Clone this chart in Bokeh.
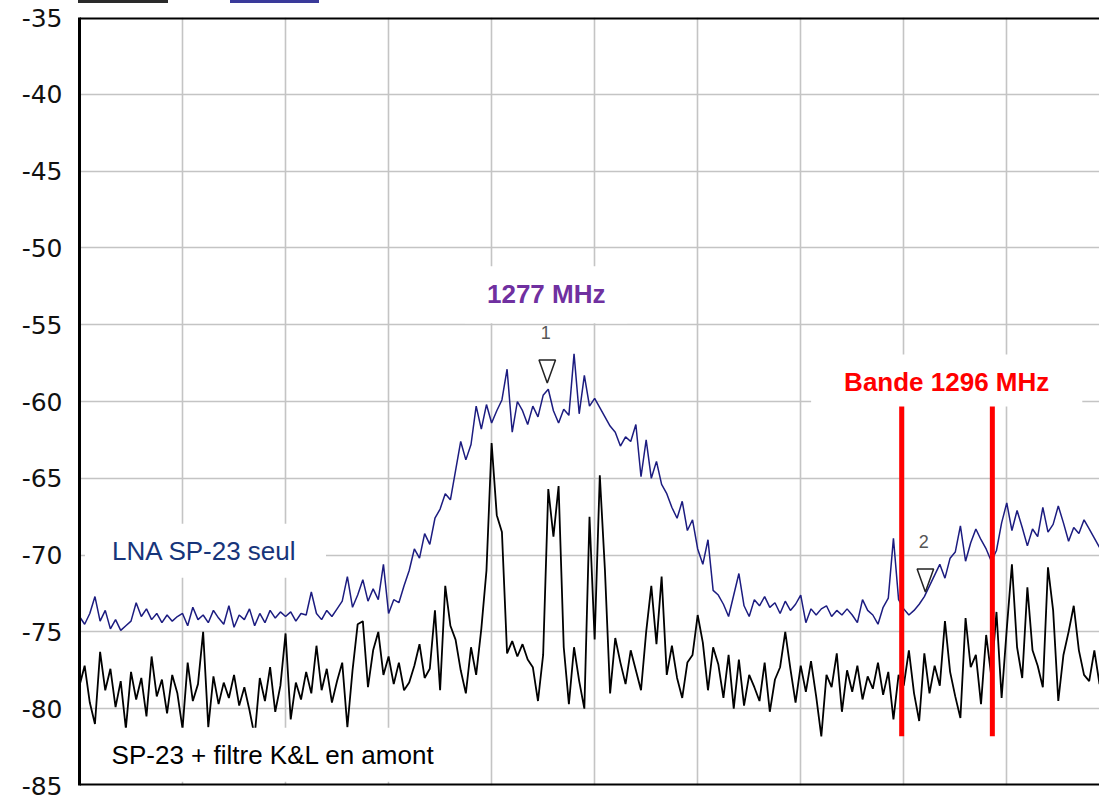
import numpy as np
from bokeh.plotting import figure
from bokeh.layouts import column
from bokeh.models import FixedTicker, Label, Span, Div
from bokeh.embed import file_html
from bokeh.resources import INLINE

# ---------------- data ----------------
f_start = 1232.0   # MHz, left edge of sweep
f_step = 0.5       # MHz per sweep point

# LNA SP-23 alone (blue trace), dBm
lna_alone = [
    -74.0, -74.5, -73.8, -72.7, -74.3, -73.6, -74.8, -74.2, -74.9, -74.6,
    -74.3, -73.1, -74.0, -73.5, -74.2, -73.8, -74.4, -73.9, -74.3, -74.0,
    -73.8, -74.6, -73.4, -74.2, -73.9, -74.4, -73.6, -74.1, -74.5, -73.3,
    -74.7, -73.9, -74.2, -73.5, -74.6, -73.8, -74.4, -73.6, -74.1, -73.7,
    -74.0, -73.7, -74.3, -73.8, -73.9, -72.4, -73.8, -74.2, -73.6, -74.0,
    -73.5, -73.0, -71.4, -73.4, -72.6, -71.6, -73.0, -72.2, -72.9, -70.6,
    -73.8, -72.9, -73.1, -72.0, -71.0, -69.6, -70.2, -68.6, -69.3, -67.6,
    -67.0, -66.0, -66.4, -64.5, -62.6, -63.8, -62.8, -60.3, -61.8, -60.2,
    -61.4, -60.6, -59.9, -57.9, -62.0, -60.0, -60.6, -61.5, -60.3, -61.0,
    -59.6, -59.2, -60.6, -61.4, -60.5, -60.9, -56.9, -60.8, -58.3, -60.3,
    -59.8, -60.4, -61.0, -61.6, -62.0, -62.9, -62.3, -62.6, -61.5, -64.9,
    -62.5, -65.0, -63.9, -65.4, -66.0, -66.9, -67.6, -66.5, -68.4, -67.7,
    -69.6, -70.6, -69.0, -72.3, -72.6, -73.2, -74.0, -72.6, -71.2, -73.3,
    -74.0, -72.9, -73.3, -72.7, -73.4, -73.1, -73.8, -73.0, -73.6, -73.2,
    -72.6, -74.4, -73.5, -73.9, -73.5, -73.3, -74.0, -73.6, -73.9, -73.5,
    -73.9, -74.4, -72.9, -73.6, -73.9, -74.5, -73.4, -72.8, -68.9, -72.9,
    -73.5, -73.9, -73.6, -73.2, -72.7, -72.0, -71.3, -70.6, -71.5, -70.2,
    -69.8, -68.1, -70.4, -69.2, -68.3, -69.0, -69.6, -70.4, -69.7, -67.9,
    -66.6, -68.4, -67.1, -68.2, -69.4, -68.3, -68.8, -66.9, -68.5, -68.0,
    -66.8, -67.9, -69.1, -68.2, -68.6, -67.7, -68.3, -68.9, -69.5,
]

# SP-23 + K&L filter upstream (black trace), dBm
lna_filtered = [
    -78.5, -77.2, -79.6, -81.0, -76.3, -78.8, -77.4, -79.9, -78.2, -81.3,
    -77.6, -79.4, -78.0, -80.5, -76.6, -79.2, -78.1, -80.3, -77.8, -79.0,
    -81.3, -77.0, -79.5, -78.4, -75.0, -81.2, -77.9, -79.7, -78.3, -79.3,
    -77.8, -79.8, -78.6, -80.1, -81.8, -78.0, -79.5, -77.3, -80.2, -78.5,
    -75.1, -80.7, -78.3, -79.4, -77.6, -79.0, -75.9, -78.8, -77.4, -79.6,
    -78.2, -77.0, -81.2, -77.5, -74.5, -74.3, -78.6, -76.2, -75.0, -77.8,
    -76.6, -78.4, -77.0, -78.8, -78.3, -77.2, -75.8, -78.0, -77.4, -73.6,
    -78.8, -72.0, -74.6, -75.5, -77.5, -79.0, -76.0, -77.8, -74.8, -71.0,
    -62.7, -67.4, -68.5, -76.4, -75.6, -76.6, -75.8, -76.8, -77.3, -79.5,
    -76.5, -65.7, -68.8, -65.5, -76.0, -79.7, -76.0, -78.2, -80.0, -67.5,
    -75.5, -64.8, -71.0, -79.0, -75.4, -77.0, -78.4, -76.2, -77.5, -78.8,
    -75.0, -72.0, -75.8, -71.4, -77.8, -75.9, -78.0, -79.3, -77.0, -76.5,
    -73.9, -75.7, -78.8, -76.0, -77.1, -79.3, -76.5, -80.0, -76.8, -79.8,
    -77.8, -78.6, -79.5, -77.0, -80.2, -78.1, -77.3, -75.0, -77.4, -79.6,
    -77.2, -78.9, -76.9, -79.2, -81.8, -77.8, -78.6, -76.4, -80.2, -77.5,
    -78.9, -77.2, -79.4, -77.9, -78.7, -77.0, -79.1, -77.6, -80.7, -77.8,
    -78.5, -76.2, -79.0, -80.8, -76.4, -79.0, -77.2, -78.5, -74.3, -77.6,
    -79.2, -80.6, -74.1, -77.3, -76.5, -79.7, -75.2, -77.9, -73.7, -79.3,
    -74.8, -70.6, -76.0, -78.0, -72.1, -76.2, -77.2, -78.6, -70.8, -73.6,
    -79.5, -76.5, -75.0, -73.3, -76.2, -77.8, -78.2, -76.2, -78.4,
]

freq = [f_start + f_step * i for i in range(len(lna_alone))]

ytick_values = [-85, -80, -75, -70, -65, -60, -55, -50, -45, -40, -35]
ytick_labels = ["-85", "-80", "-75", "-70", "-65", "-60", "-55", "-50", "-45", "-40", "-35"]
xgrid_values = [1242, 1252, 1262, 1272, 1282, 1292, 1302, 1312, 1322]

marker_labels = ["1", "2"]
marker_freq = [1277.4, 1314.1]
marker_db = [-58.8, -72.4]

band_freq = [1311.8, 1320.6]
band_top = -60.25
band_bottom = -81.8

peak_text = "1277 MHz"
band_text = "Bande 1296 MHz"
alone_text = "LNA SP-23 seul"
filtered_text = "SP-23 + filtre K&L en amont"

# ---------------- figure ----------------
FONT = "Liberation Sans"
p = figure(width=1099, height=796, x_range=(1232, 1331), y_range=(-85, -35),
           output_backend="svg", toolbar_location=None,
           min_border_left=79, min_border_top=14, min_border_bottom=14,
           min_border_right=0)
p.outline_line_color = None
p.background_fill_color = "white"
p.border_fill_color = "white"

p.xaxis.visible = False
p.xgrid.ticker = FixedTicker(ticks=xgrid_values)
p.ygrid.ticker = FixedTicker(ticks=ytick_values)
for g in (p.xgrid, p.ygrid):
    g.grid_line_color = "#c4c4c4"
    g.grid_line_width = 1.6

ya = p.yaxis[0]
ya.ticker = FixedTicker(ticks=ytick_values)
ya.major_label_overrides = {v: s for v, s in zip(ytick_values, ytick_labels)}
ya.major_label_text_font = "DejaVu Sans"
ya.major_label_text_font_size = "25px"
ya.major_label_text_color = "#111111"
ya.major_label_standoff = 17
ya.major_tick_line_color = None
ya.minor_tick_line_color = None
ya.major_tick_out = 0
ya.major_tick_in = 0
ya.axis_line_color = "black"
ya.axis_line_width = 3

p.add_layout(Span(location=-35, dimension="width", line_color="black", line_width=4))
p.add_layout(Span(location=-85, dimension="width", line_color="black", line_width=4))

r_blue = p.line(freq, lna_alone, line_color="#1c1c80", line_width=1.5)
r_black = p.line(freq, lna_filtered, line_color="black", line_width=1.8)

# band limits
p.segment(x0=band_freq, x1=band_freq, y0=[band_top] * len(band_freq),
          y1=[band_bottom] * len(band_freq), line_color="#ff0000", line_width=5)

# marker triangles (tip on the trace)
dx, dy = 0.8, 1.5
xs = [[f - dx, f + dx, f] for f in marker_freq]
ys = [[d + dy, d + dy, d] for d in marker_db]
p.patches(xs, ys, fill_color=None, line_color="#222222", line_width=1.5)

for lab, f, d in zip(marker_labels, marker_freq, marker_db):
    p.add_layout(Label(x=f - 0.15, y=d + 3.3, text=lab, text_font=FONT,
                       text_font_size="18px", text_color="#555555",
                       text_align="center", text_baseline="middle"))

def boxed(text, x, y, color, bold, pad):
    l, r, t, b = pad
    return Label(x=x, y=y, text=text, text_font=FONT, text_font_size="26px",
                 text_font_style="bold" if bold else "normal",
                 text_color=color, text_align="center", text_baseline="middle",
                 background_fill_color="white",
                 padding=dict(left=l, right=r, top=t, bottom=b))

p.add_layout(boxed(peak_text, 1277.3, -53.05, "#7030A0", True, (22, 22, 13, 14)))
p.add_layout(boxed(band_text, 1316.17, -58.64, "#ff0000", True, (33, 33, 12, 10)))
p.add_layout(boxed(alone_text, 1244.23, -69.72, "#17357a", False, (27, 29, 12, 12)))
p.add_layout(boxed(filtered_text, 1250.79, -83.0, "black", False, (23, 23, 12, 12)))

# residual legend strokes at the very top edge (cropped legend of the original)
strokes = Div(
    width=1099, height=3, margin=(0, 0, 0, 0), text="",
    styles={
        "background": ("linear-gradient(to right, transparent 0px, transparent 78px, "
                       "#2a2a2a 78px, #2a2a2a 168px, transparent 168px, transparent 230px, "
                       "#3a3a9a 230px, #3a3a9a 319px, transparent 319px, transparent 1099px)"),
        "width": "1099px", "height": "3px",
    })

layout = column(strokes, p, spacing=0)
open("out.html", "w").write(file_html(layout, INLINE))
